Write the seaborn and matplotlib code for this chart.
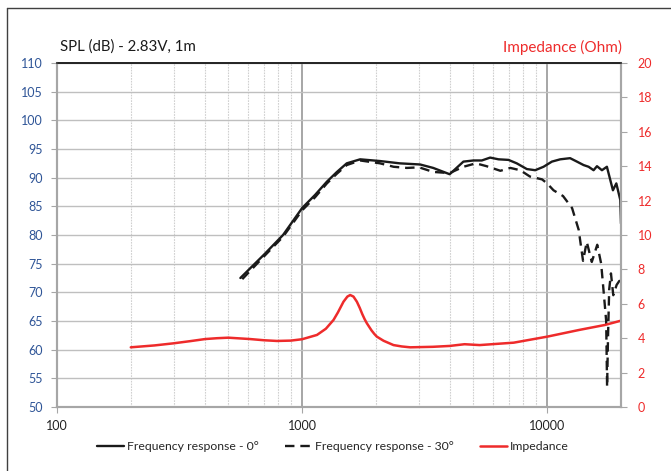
import matplotlib
matplotlib.use('Agg')
import matplotlib.pyplot as plt
import seaborn as sns
import pandas as pd
from matplotlib.lines import Line2D
from matplotlib.ticker import NullFormatter

# frequency response on axis (0 deg)
freq_0 = [560, 700, 836, 1000, 1130, 1262, 1387, 1521, 1725, 2080, 2500, 3030, 3426, 4000,
          4550, 5000, 5410, 5850, 6330, 6950, 7510, 8260, 8930, 9660, 10450, 11300, 12400,
          13220, 14070, 14750, 15460, 15960, 16720, 17520, 18540, 19140, 19870, 20000]
spl_0 = [72.5, 76.6, 80.0, 84.7, 87.0, 89.3, 91.0, 92.5, 93.2, 92.9, 92.5, 92.3, 91.7, 90.6,
         92.8, 93.0, 93.0, 93.5, 93.2, 93.1, 92.5, 91.5, 91.3, 91.9, 92.8, 93.2, 93.4,
         92.8, 92.2, 91.9, 91.3, 92.0, 91.3, 91.9, 87.8, 89.0, 86.1, 82.0]

# frequency response off axis (30 deg)
freq_30 = [570, 700, 836, 1000, 1130, 1262, 1387, 1521, 1725, 2080, 2362, 2675, 3000, 3426,
           4000, 4550, 5120, 5660, 6440, 7070, 7760, 8500, 9530, 9990, 10610, 11600, 12630,
           13440, 14000, 14500, 15200, 16000, 16600, 17000, 17400, 17550, 17700, 17900,
           18200, 18600, 19200, 19700, 20000]
spl_30 = [72.3, 76.3, 79.7, 84.3, 86.6, 89.0, 90.7, 92.2, 93.0, 92.5, 91.9, 91.7, 91.8, 91.0,
          90.8, 91.9, 92.5, 92.0, 91.2, 91.7, 91.3, 90.2, 89.7, 89.0, 87.8, 86.8, 84.7,
          80.9, 75.5, 78.8, 75.3, 78.3, 75.0, 70.0, 65.0, 53.5, 62.0, 70.5,
          73.3, 69.5, 71.3, 72.0, 71.0]

# impedance
freq_z = [200, 250, 298, 350, 402, 450, 500, 614, 700, 789, 900, 1000, 1150, 1250, 1343,
          1400, 1475, 1530, 1571, 1620, 1673, 1720, 1760, 1800, 1837, 1880, 1920, 1970,
          2018, 2150, 2360, 2550, 2760, 3420, 4000, 4600, 5300, 7300, 10000, 13500,
          17200, 20000]
imp = [3.47, 3.58, 3.70, 3.83, 3.95, 4.00, 4.03, 3.95, 3.88, 3.84, 3.86, 3.94, 4.19, 4.55,
       5.06, 5.50, 6.12, 6.42, 6.51, 6.42, 6.12, 5.75, 5.40, 5.10, 4.87, 4.65, 4.45, 4.25,
       4.09, 3.85, 3.60, 3.52, 3.47, 3.50, 3.55, 3.65, 3.60, 3.74, 4.09, 4.48,
       4.77, 5.02]

df0 = pd.DataFrame({'f': freq_0, 'spl': spl_0})
df30 = pd.DataFrame({'f': freq_30, 'spl': spl_30})
dfz = pd.DataFrame({'f': freq_z, 'z': imp})

sns.set_style('white')
plt.rcParams['font.family'] = ['Lato', 'DejaVu Sans']

blue = '#2F5597'
red = '#EE2B2B'
grid_c = '#BFBFBF'

fig = plt.figure(figsize=(6.71, 4.71), dpi=100)
ax = fig.add_axes([57/671, 1-407/471, (621-57)/671, (407-63)/471])
ax2 = ax.twinx()

sns.lineplot(data=df0, x='f', y='spl', ax=ax, color='#1a1a1a', lw=1.7, sort=False)
sns.lineplot(data=df30, x='f', y='spl', ax=ax, color='#1a1a1a', lw=1.7, sort=False,
             dashes=False)
ax.lines[-1].set_dashes((4, 2.5))
sns.lineplot(data=dfz, x='f', y='z', ax=ax2, color=red, lw=1.8, sort=False)

ax.set_xscale('log')
ax.set_xlim(100, 20000)
ax.set_ylim(50, 110)
ax2.set_ylim(0, 20)
ax.set_yticks(range(50, 111, 5))
ax2.set_yticks(range(0, 21, 2))
ax.set_xticks([100, 1000, 10000])
ax.set_xticklabels(['100', '1000', '10000'])
ax.xaxis.set_minor_formatter(NullFormatter())
ax.set_xlabel('')
ax.set_ylabel('')
ax2.set_ylabel('')

# grid
ax.grid(which='major', axis='y', color=grid_c, lw=1.0)
ax.grid(which='major', axis='x', color='#A6A6A6', lw=1.4)
ax.grid(which='minor', axis='x', color='#D0D0D0', lw=0.8, linestyle=(0, (1.5, 1)))
ax2.grid(False)
ax.set_axisbelow(True)

ax.tick_params(axis='y', which='major', colors='#A6A6A6', labelcolor=blue, labelsize=9,
               length=4, direction='out', left=True, pad=6)
ax.tick_params(axis='x', which='major', colors='#A6A6A6', labelcolor='#222222',
               labelsize=9, length=4, direction='out', bottom=True, pad=5)
ax.tick_params(axis='x', which='minor', length=0)
ax2.tick_params(axis='y', colors='#A6A6A6', labelcolor=red, labelsize=9,
                length=4, direction='out', right=True, pad=8)

for a in (ax, ax2):
    for s in ('left', 'bottom', 'right'):
        a.spines[s].set_color('#A6A6A6')
        a.spines[s].set_linewidth(1.5)
    a.spines['top'].set_color('#222222')
    a.spines['top'].set_linewidth(1.2)

fig.text(60/671, 1-47/471, 'SPL (dB) - 2.83V, 1m', fontsize=10.8, color='#1a1a1a',
         va='center', ha='left')
fig.text(622/671, 1-47/471, 'Impedance (Ohm)', fontsize=11, color=red,
         va='center', ha='right')

handles = [Line2D([], [], color='#1a1a1a', lw=1.7),
           Line2D([], [], color='#1a1a1a', lw=1.7, dashes=(4, 2.5)),
           Line2D([], [], color=red, lw=1.8)]
labels = ['Frequency response - 0°', 'Frequency response - 30°', 'Impedance']
for a in (ax, ax2):
    if a.get_legend() is not None:
        a.get_legend().remove()
fig.legend(handles, labels, loc='center', bbox_to_anchor=(0.496, 1-447/471), ncol=3,
           frameon=False, fontsize=8.8, handlelength=2.2, handletextpad=0.2,
           columnspacing=2.2)

# frame around the chart (left and top edges visible)
fig.add_artist(Line2D([7/671, 7/671], [0, 1-8/471], color='#404040', lw=1.0))
fig.add_artist(Line2D([7/671, 1], [1-8/471, 1-8/471], color='#404040', lw=1.0))

fig.savefig('out.png', dpi=100)
